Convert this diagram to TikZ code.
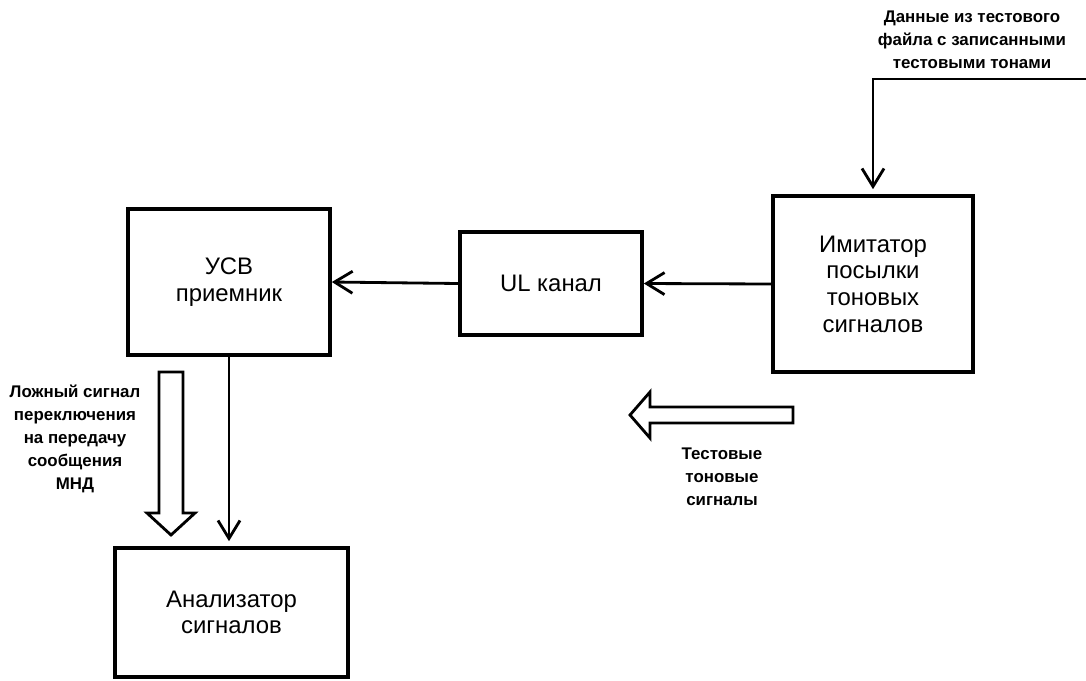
\documentclass[tikz,border=0pt]{standalone}
\usepackage{fontspec}
\setmainfont{Liberation Sans}
\usetikzlibrary{positioning, arrows.meta, calc}

\begin{document}
\begin{tikzpicture}[
    % GLOBAL SETTINGS
    x=0.025cm, y=-0.025cm,
    % STYLES
    block/.style={draw=black, line width=2.6pt, fill=white, align=center, inner sep=2pt,
                  font=\fontsize{17}{19}\selectfont},
    note/.style={align=center, inner sep=0pt, font=\bfseries\fontsize{12}{16.3}\selectfont},
    link/.style={draw, line width=2pt, -{Straight Barb[length=4.5mm, width=5.5mm, line width=2pt]}},
    hollow/.style={draw, line width=2pt, fill=white, line join=miter}
]

    \useasboundingbox (0,0) rectangle (1086,680);

    % Blocks
    \node[block, minimum width=202*0.025cm, minimum height=146*0.025cm] (usv) at (229,282) {УСВ\\приемник};
    \node[block, minimum width=182*0.025cm, minimum height=103*0.025cm] (ul) at (551,283.5) {UL канал};
    \node[block, minimum width=200*0.025cm, minimum height=176*0.025cm] (imit) at (873,284) {Имитатор\\посылки\\тоновых\\сигналов};
    \node[block, minimum width=233*0.025cm, minimum height=129*0.025cm] (anal) at (231.5,612.5) {Анализатор\\сигналов};

    % Labels
    \node[note] (data) at (972,40) {Данные из тестового\\файла с записанными\\тестовыми тонами};
    \node[note] (tones) at (722,477) {Тестовые\\тоновые\\сигналы};
    \node[note] (false) at (75,439) {Ложный сигнал\\переключения\\на передачу\\сообщения\\МНД};

    % Connectors
    \coordinate (src) at (1086,79);
    \draw[link] (src) -| ($(imit.north)+(0,-5)$);
    \draw[link] (imit.west) -- (ul.east);
    \draw[link] (ul.west) -- (usv.east);
    \draw[link] (usv.south) -- ($(usv.south |- anal.north)+(0,-5)$);

    % Hollow arrows
    \draw[hollow] (159,372) -- (183,372) -- (183,513) -- (195,513) -- (171,535)
        -- (147,513) -- (159,513) -- cycle;
    \draw[hollow] (793,407) -- (793,423) -- (650,423) -- (650,438) -- (630,415)
        -- (650,392) -- (650,407) -- cycle;

\end{tikzpicture}
\end{document}
